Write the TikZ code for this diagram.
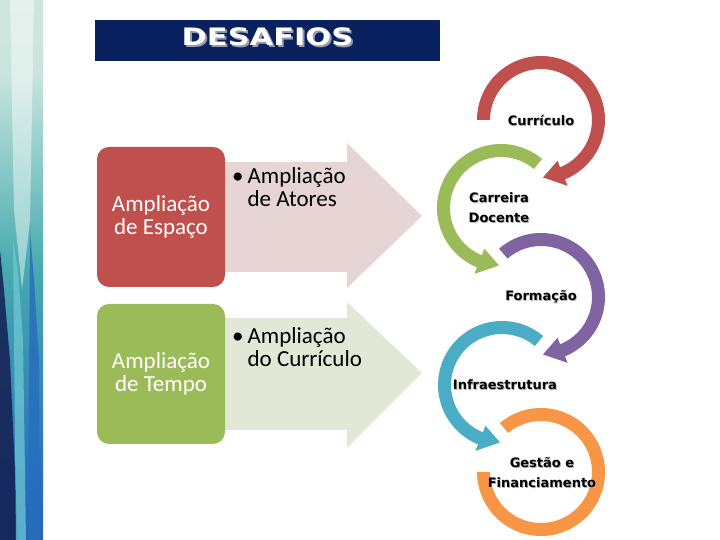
\documentclass[tikz,border=0pt]{standalone}
\usepackage{fontspec}
\setmainfont{Carlito}
\newfontfamily\rotulofont{DejaVu Sans}
\usetikzlibrary{calc}

\definecolor{azulTitulo}{RGB}{10,33,96}
\definecolor{sombraTitulo}{RGB}{150,156,178}
\definecolor{vermelho}{RGB}{192,80,77}
\definecolor{verde}{RGB}{155,187,89}
\definecolor{roxo}{RGB}{128,100,162}
\definecolor{ciano}{RGB}{75,172,198}
\definecolor{laranja}{RGB}{247,150,70}
\definecolor{setaRosa}{RGB}{230,213,212}
\definecolor{setaVerde}{RGB}{225,232,213}
\definecolor{fxTopo}{RGB}{238,236,226}
\definecolor{fxClaro}{RGB}{200,228,220}
\definecolor{fxTeal}{RGB}{70,170,175}
\definecolor{fxAzul}{RGB}{40,110,190}
\definecolor{fxBase}{RGB}{30,60,120}
\definecolor{fxNavy}{RGB}{20,30,80}
\definecolor{fxCiano}{RGB}{110,200,210}

\pgfdeclareverticalshading{faixa}{100bp}{color(0bp)=(fxBase); color(30bp)=(fxAzul); color(50bp)=(fxTeal); color(68bp)=(fxClaro); color(100bp)=(fxTopo)}

% seta circular: centro, angulo inicial, fim do corpo, ponta, cor
\newcommand{\setaCircular}[5]{%
  \fill[#5] ($(#1)+(#2:64)$) arc[start angle=#2, end angle=#3, radius=64]
    -- ($(#1)+(#3:71)$) -- ($(#1)+(#4:57.5)$) -- ($(#1)+(#3:44)$)
    -- ($(#1)+(#3:51)$) arc[start angle=#3, end angle=#2, radius=51] -- cycle;}

% texto com sombra leve
\newcommand{\sombra}[1]{\rlap{\kern0.8pt\raisebox{-0.8pt}{\color{black!30}#1}}#1}

\begin{document}
\begin{tikzpicture}[x=1pt, y=1pt,
    caixa/.style={rectangle, rounded corners=12pt, minimum width=128pt, minimum height=140pt, align=center, text=white, font=\fontsize{23}{23}\selectfont},
    topico/.style={anchor=north west, inner sep=0pt, align=left, font=\fontsize{23}{23}\selectfont},
    rotulo/.style={align=center, inner sep=0pt, font=\rotulofont\bfseries\fontsize{13}{20}\selectfont}
  ]
  \useasboundingbox (0,0) rectangle (720,540);
  \fill[white] (0,0) rectangle (720,540);

  % faixa decorativa
  \shade[shading=faixa] (0,0) rectangle (43,540);
  \begin{scope}
    \clip (0,0) rectangle (43,540);
    \fill[white, opacity=.45] (10,540) -- (34,540) -- (30,320) -- (22,250) -- (14,330) -- cycle;
    \fill[fxNavy, opacity=.85] (0,0) -- (18,0) -- (10,180) -- (4,250) -- (0,290) -- cycle;
    \fill[fxCiano, opacity=.75] (16,0) -- (26,0) -- (23,200) -- (18,270) -- (13,300) -- cycle;
    \fill[fxAzul, opacity=.85] (28,0) -- (40,0) -- (39,180) -- (34,260) -- (30,310) -- cycle;
  \end{scope}

  % titulo
  \node (titulo) [fill=azulTitulo, minimum width=345pt, minimum height=41pt, text=white, font=\rotulofont\bfseries\fontsize{24}{24}\selectfont] at (267.5,499.5) {\raisebox{-5pt}[0pt][0pt]{\scalebox{1.27}[1]{\rlap{\kern1.6pt\raisebox{-1.6pt}{\color{sombraTitulo}DESAFIOS}}DESAFIOS}}};

  % setas largas
  \fill[setaRosa] (161,378) -- (347,378) -- (347,397) -- (422,324) -- (347,252) -- (347,268) -- (161,268) -- cycle;
  \fill[setaVerde] (161,222) -- (347,222) -- (347,238) -- (422,167) -- (347,92) -- (347,110) -- (161,110) -- cycle;

  \node (espaco) [caixa, fill=vermelho] at (161,323) {Ampliação\\de Espaço};
  \node (tempo) [caixa, fill=verde] at (161,166) {Ampliação\\de Tempo};

  \node (atores) [topico] at (232,373) {\textbullet\hspace{4pt}Ampliação\\\phantom{\textbullet\hspace{4pt}}de Atores};
  \node (curric) [topico] at (232,213) {\textbullet\hspace{4pt}Ampliação\\\phantom{\textbullet\hspace{4pt}}do Currículo};

  % ciclo de desafios
  \coordinate (cCurriculo) at (541,420);
  \coordinate (cCarreira) at (501,332);
  \coordinate (cFormacao) at (541,243);
  \coordinate (cInfra) at (502,155);
  \coordinate (cGestao) at (541,68);

  \setaCircular{cCurriculo}{180}{-68}{-88}{vermelho}
  \setaCircular{cCarreira}{50}{248}{268}{verde}
  \setaCircular{cFormacao}{131}{-68}{-88}{roxo}
  \setaCircular{cInfra}{50}{248}{268}{ciano}
  \fill[laranja] ($(cGestao)+(130:64)$) arc[start angle=130, end angle=-180, radius=64]
    -- ($(cGestao)+(180:51)$) arc[start angle=-180, end angle=130, radius=51] -- cycle;

  \node (lCurriculo) [rotulo] at (541,419) {\sombra{Currículo}};
  \node (lCarreira) [rotulo] at (499,332) {\sombra{Carreira}\\\sombra{Docente}};
  \node (lFormacao) [rotulo] at (541,243) {\sombra{Formação}};
  \node (lInfra) [rotulo] at (505,155) {\sombra{Infraestrutura}};
  \node (lGestao) [rotulo] at (542,67) {\sombra{Gestão e}\\\sombra{Financiamento}};
\end{tikzpicture}
\end{document}
